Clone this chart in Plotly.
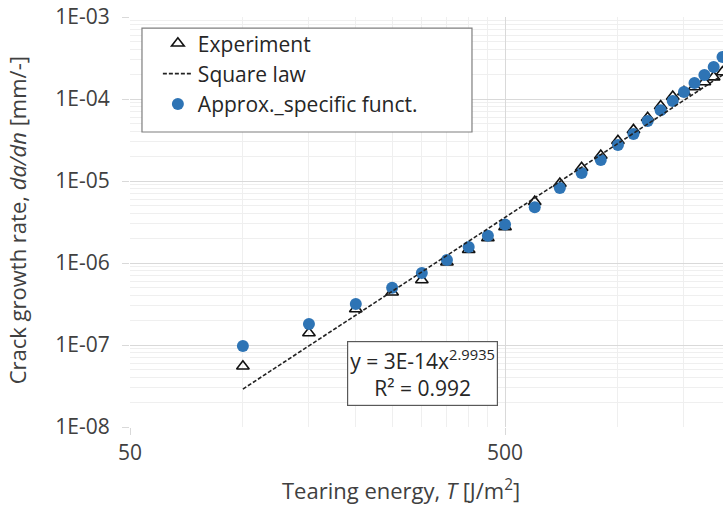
import math
import plotly.graph_objects as go

# ---- data ----
T_vals = [100, 150, 200, 250, 300, 350, 400, 450, 500, 600, 700, 800, 900,
          1000, 1100, 1200, 1300, 1400, 1500, 1600, 1700, 1800, 1900]
exp_rate = [5.5e-8, 1.4e-7, 2.75e-7, 4.4e-7, 6.2e-7, 1.02e-6, 1.45e-6, 2.02e-6, 2.75e-6,
            5.6e-6, 9.3e-6, 1.45e-5, 2.05e-5, 3.1e-5, 4.2e-5, 5.9e-5, 8.2e-5,
            1.07e-4, 1.22e-4, 1.4e-4, 1.61e-4, 1.85e-4, 2.13e-4]
approx_rate = [9.7e-8, 1.8e-7, 3.16e-7, 5.0e-7, 7.55e-7, 1.09e-6, 1.57e-6, 2.15e-6, 2.95e-6,
               4.8e-6, 8.2e-6, 1.25e-5, 1.8e-5, 2.75e-5, 3.74e-5, 5.4e-5, 7.3e-5,
               9.45e-5, 1.22e-4, 1.57e-4, 1.96e-4, 2.45e-4, 3.25e-4]
trend_T = [100, 1906]
trend_rate = [2.9e-8, 1.98e-4]

x_tickvals = [50, 500, 5000]
x_ticktext = ["50", "500", "5000"]
x_minor = [100, 150, 200, 250, 300, 350, 400, 450, 1000, 1500, 2000]
y_tickvals = [1e-8, 1e-7, 1e-6, 1e-5, 1e-4, 1e-3]
y_ticktext = ["1E-08", "1E-07", "1E-06", "1E-05", "1E-04", "1E-03"]
y_minor = [k * 10 ** e for e in range(-8, -3) for k in range(2, 10)]

FONT = "Open Sans"
FS = 21
TITLE_FS = 22
TXT = "#404040"
BLUE = "#2E74B5"

fig = go.Figure()
fig.add_trace(go.Scatter(
    x=T_vals, y=exp_rate, mode="markers", name="Experiment",
    marker=dict(symbol="triangle-up-open", size=11, color="#111111",
                line=dict(width=1.6, color="#111111")),
    legendrank=1, legendgroup="a"))
fig.add_trace(go.Scatter(
    x=T_vals, y=approx_rate, mode="markers", name="Approx._specific funct.",
    marker=dict(symbol="circle", size=12, color=BLUE),
    legendrank=3, legendgroup="c"))
fig.add_trace(go.Scatter(
    x=trend_T, y=trend_rate, mode="lines", name="Square law",
    line=dict(color="#222222", width=1.6, dash="4px,2px"),
    legendrank=2, legendgroup="b"))

fig.update_layout(
    width=723, height=507,
    margin=dict(l=130, r=0, t=17, b=80),
    paper_bgcolor="white", plot_bgcolor="white",
    font=dict(family=FONT, size=FS, color=TXT),
    showlegend=True,
    legend=dict(x=0.047, y=0.985, xanchor="left", yanchor="top",
                bgcolor="rgba(0,0,0,0)", borderwidth=0,
                font=dict(family=FONT, size=FS, color="#262626"),
                traceorder="grouped", tracegroupgap=0),
    shapes=[dict(type="rect", xref="paper", yref="paper",
                 x0=0.0202, x1=0.5767, y0=0.7195, y1=0.973,
                 line=dict(color="#7f7f7f", width=1.2), fillcolor="white",
                 layer="above")],
    annotations=[
        dict(text="y = 3E-14x<sup>2.9935</sup><br>R² = 0.992",
             xref="paper", yref="paper", x=0.493, y=0.13,
             xanchor="center", yanchor="middle", showarrow=False,
             align="center", bordercolor="#595959", borderwidth=1.2,
             borderpad=2, bgcolor="white",
             font=dict(family=FONT, size=FS, color="#262626")),
        dict(text="Crack growth rate, <i>da/dn</i> [mm/-]",
             xref="paper", yref="paper", x=-0.19, y=0.505,
             xanchor="center", yanchor="middle", textangle=-90,
             showarrow=False, font=dict(family=FONT, size=TITLE_FS, color=TXT)),
        dict(text="Tearing energy, <i>T</i> [J/m<sup>2</sup>]",
             xref="paper", yref="paper", x=0.457, y=-0.153,
             xanchor="center", yanchor="middle",
             showarrow=False, font=dict(family=FONT, size=TITLE_FS, color=TXT)),
    ],
)

fig.update_xaxes(
    type="log", range=[math.log10(50), math.log10(1906)],
    tickmode="array", tickvals=x_tickvals, ticktext=x_ticktext,
    showgrid=True, gridcolor="#d9d9d9", gridwidth=1,
    ticks="outside", ticklen=7, tickcolor="#d9d9d9",
    showline=False, zeroline=False,
    minor=dict(tickmode="array", tickvals=x_minor, showgrid=True,
               gridcolor="#efefef", ticks=""),
    tickfont=dict(family=FONT, size=FS, color=TXT),
    ticklabelstandoff=0,
)
fig.update_yaxes(
    type="log", range=[-8, -3],
    tickmode="array", tickvals=y_tickvals, ticktext=y_ticktext,
    showgrid=True, gridcolor="#d9d9d9", gridwidth=1,
    ticks="outside", ticklen=7, tickcolor="#d9d9d9",
    showline=False, zeroline=False,
    minor=dict(tickmode="array", tickvals=y_minor, showgrid=True,
               gridcolor="#efefef", ticks=""),
    tickfont=dict(family=FONT, size=FS, color=TXT),
    ticklabelstandoff=8,
)

fig.write_html("out.html")
